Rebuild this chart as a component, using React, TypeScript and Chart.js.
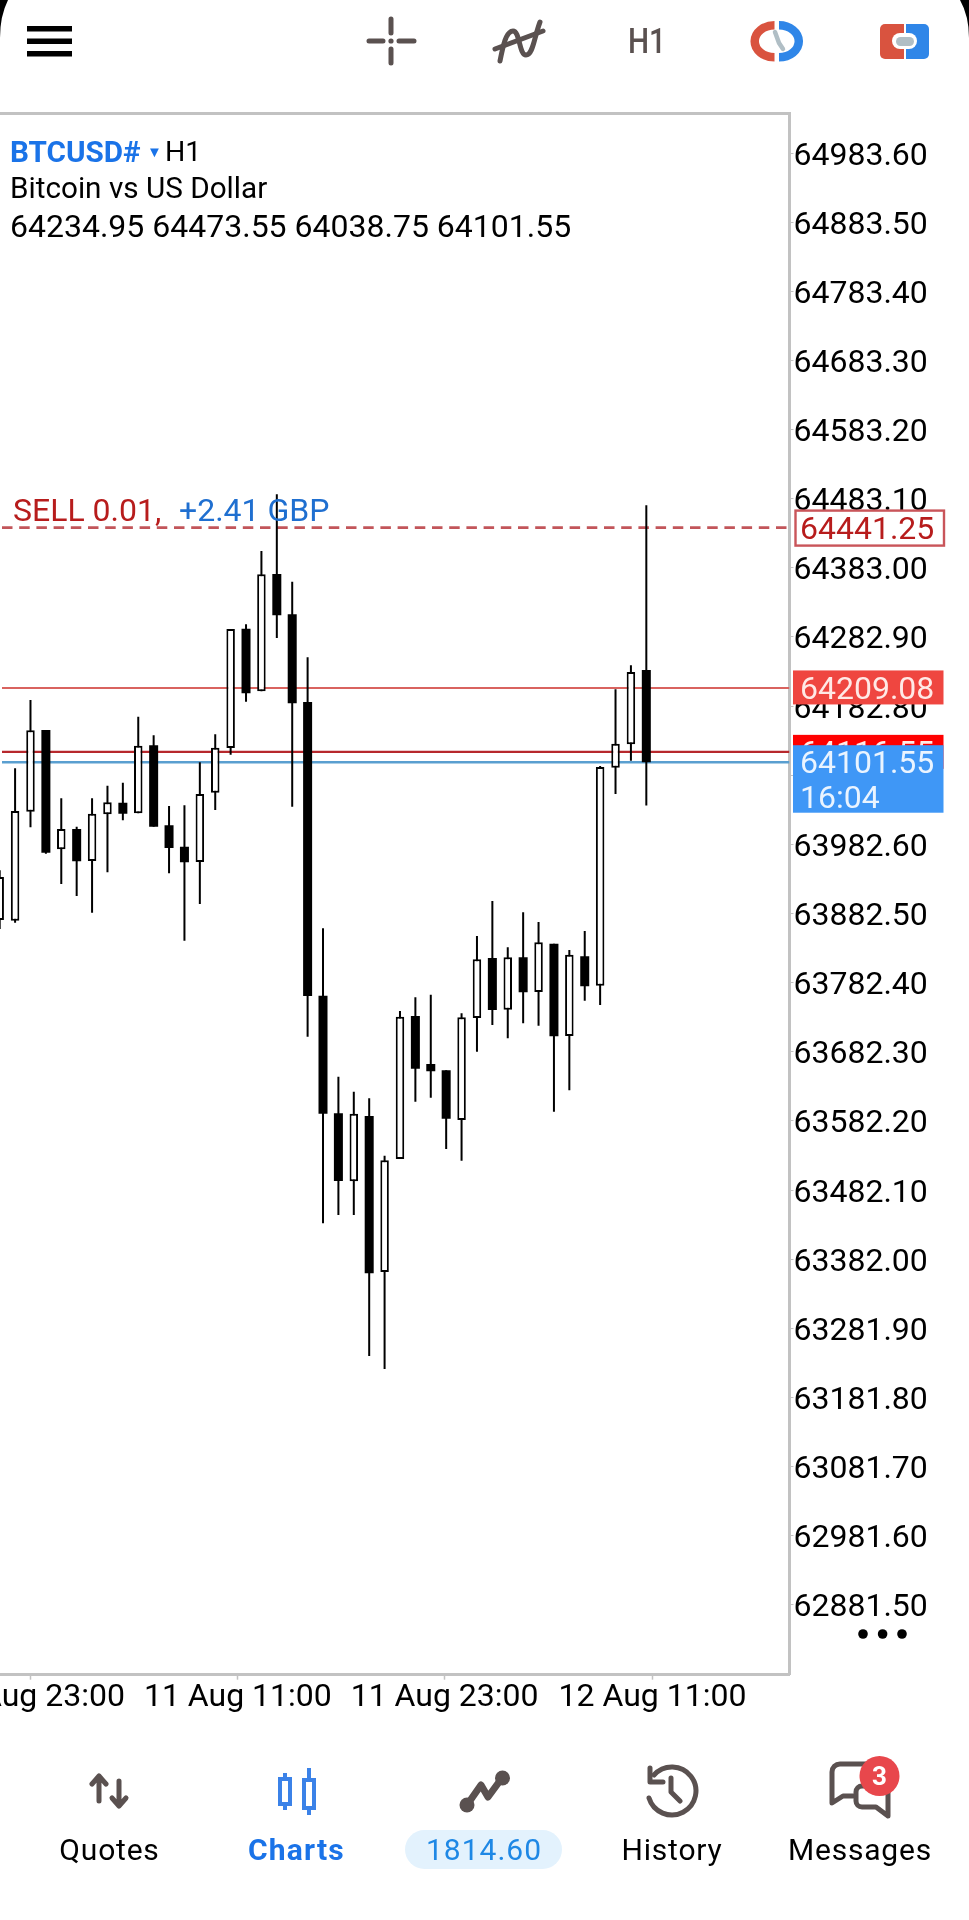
import React, { useEffect, useRef } from "react";
import { Chart, registerables } from "chart.js";

Chart.register(...registerables);

const opens = [63873.1,63872.1,64029.9,64148.2,63975.5,64004.9,63958.5,64026.2,64042.9,64027.6,64126.1,64010.2,63979.3,63957.1,64057.4,64122.1,64294.9,64204.2,64374.1,64315.7,64188.7,63763.5,63593.3,63494.8,63589.4,63363.5,63527.1,63734.2,63664.6,63655.5,63583.6,63731.3,63818.1,63743.3,63819.1,63768.9,63838.8,63705.2,63820.6,63778.0,64093.6,64127.5,64234.95];
const highs = [63945.0,64092.8,64191.6,64148.2,64049.3,64008.2,64049.3,64067.6,64071.9,64167.5,64140.5,64038.2,64039.2,64101.5,64142.0,64294.4,64301.2,64407.4,64489.5,64362.9,64253.5,63861.1,63646.3,63624.6,63615.0,63531.9,63741.4,63761.2,63765.0,63655.5,63738.1,63850.0,63900.6,63833.6,63884.3,63870.2,63838.8,63829.7,63857.2,64096.1,64207.1,64241.9,64473.55];
const lows = [63860.0,63869.2,64007.3,63969.1,63925.2,63907.9,63883.7,63942.2,64017.5,64027.6,64008.2,63940.7,63843.2,63896.3,64032.4,64112.4,64189.2,64204.2,64281.4,64037.2,63704.2,63434.0,63446.1,63446.1,63241.9,63223.1,63527.1,63609.9,63615.9,63541.6,63524.7,63682.5,63721.1,63701.9,63723.6,63720.1,63595.6,63626.6,63756.3,63750.1,64055.5,64103.8,64038.75];
const closes = [63935.4,64030.9,64147.8,63970.6,64004.9,63958.1,64027.0,64043.5,64027.0,64125.5,64008.2,63977.4,63956.7,64055.5,64122.6,64294.4,64201.3,64373.6,64314.3,64186.9,63763.1,63592.7,63495.3,63592.7,63361.6,63525.2,63733.1,63657.8,63654.1,63585.5,63732.2,63816.2,63742.8,63819.1,63768.4,63840.8,63704.8,63822.9,63777.2,64094.6,64128.4,64232.2,64101.55];

const priceTicks = [64983.6,64883.5,64783.4,64683.3,64583.2,64483.1,64383.0,64282.9,64182.8,64082.7,63982.6,63882.5,63782.4,63682.3,63582.2,63482.1,63382.0,63281.9,63181.8,63081.7,62981.6,62881.5];
const timeTickIndexes = [2.03, 15.47, 28.9, 42.4];
const timeTickLabels = ["10 Aug 23:00", "11 Aug 11:00", "11 Aug 23:00", "12 Aug 11:00"];

const orderPrice = 64441.25;
const askPrice = 64209.08;
const stopPrice = 64116.55;
const bidPrice = 64101.55;
const countdown = "16:04";

const yMin = 62780.4;
const yMax = 65040.8;
const xMin = 0.02;
const xMax = 51.3;

const FONT = "Roboto, sans-serif";
const CHART_FONT_SIZE = 32;

const indexes = opens.map((_, i) => i);
const bullish = indexes.filter((i) => closes[i] >= opens[i]);
const bearish = indexes.filter((i) => closes[i] < opens[i]);

const levelLine = (price: number, color: string, width: number, dash: number[] = []) => ({
  type: "line" as const,
  data: [{ x: xMin + 0.13, y: price }, { x: xMax, y: price }],
  borderColor: color,
  borderWidth: width,
  borderDash: dash,
  pointRadius: 0,
  order: 10,
});

const pricePlugin = {
  id: "priceTags",
  beforeDraw(chart: any) {
    const scale = chart.scales.y;
    const items = scale.getLabelItems(chart.chartArea);
    if (!items.shifted) {
      items.forEach((it: any) => {
        it.options.translation[1] += 3.5;
      });
      items.shifted = true;
    }
  },
  afterDraw(chart: any) {
    const { ctx, scales, chartArea } = chart;
    const y = scales.y;
    ctx.save();
    ctx.fillStyle = "#c2c2c2";
    ctx.fillRect(0, chartArea.top - 1.5, chartArea.right + 1.5, 3);
    ctx.font = `${CHART_FONT_SIZE}px ${FONT}`;
    ctx.textBaseline = "middle";
    ctx.textAlign = "left";

    const yo = y.getPixelForValue(orderPrice);
    ctx.fillStyle = "#ffffff";
    ctx.fillRect(795, yo - 17, 151, 35);
    ctx.strokeStyle = "#c9555a";
    ctx.lineWidth = 2.4;
    ctx.strokeRect(795.5, yo - 17, 148.5, 35);
    ctx.fillStyle = "#b71c1c";
    ctx.fillText(orderPrice.toFixed(2), 800, yo + 3);

    ctx.fillStyle = "#b71c1c";
    ctx.fillText("SELL 0.01,", 13, yo - 14.5);
    ctx.fillStyle = "#1f6fd0";
    ctx.fillText("+2.41 GBP", 179, yo - 14.5);

    const ya = y.getPixelForValue(askPrice);
    ctx.fillStyle = "#ef4640";
    ctx.fillRect(793, ya - 17.5, 150.5, 34);
    ctx.fillStyle = "#ffe9e6";
    ctx.fillText(askPrice.toFixed(2), 800, ya + 3);

    const ys = y.getPixelForValue(stopPrice);
    ctx.fillStyle = "#ff0000";
    ctx.fillRect(793, ys - 17, 150.5, 34);
    ctx.fillStyle = "#ffe9e6";
    ctx.fillText(stopPrice.toFixed(2), 800, ys + 3);

    const yb = y.getPixelForValue(bidPrice);
    ctx.fillStyle = "#3f97f6";
    ctx.fillRect(793, yb - 17, 150.5, 67.5);
    ctx.fillStyle = "#eaf4ff";
    ctx.fillText(bidPrice.toFixed(2), 800, yb + 3);
    ctx.fillText(countdown, 800, yb + 38);
    ctx.restore();
  },
};

function CandleChart() {
  const ref = useRef<HTMLCanvasElement | null>(null);
  useEffect(() => {
    const chart = new Chart(ref.current as HTMLCanvasElement, {
      type: "bar",
      data: {
        datasets: [
          {
            data: indexes.map((i) => ({ x: i, y: [lows[i], highs[i]] })),
            backgroundColor: "#000000",
            barThickness: 2,
            grouped: false,
            order: 3,
            inflateAmount: 0,
          },
          {
            data: bullish.map((i) => ({ x: i, y: [opens[i], closes[i]] })),
            backgroundColor: "#ffffff",
            borderColor: "#000000",
            borderWidth: 2,
            borderSkipped: false,
            barThickness: 8.5,
            grouped: false,
            order: 1,
            inflateAmount: 0,
          },
          {
            data: bearish.map((i) => ({ x: i, y: [opens[i], closes[i]] })),
            backgroundColor: "#000000",
            barThickness: 9,
            grouped: false,
            order: 2,
            inflateAmount: 0,
          },
          levelLine(orderPrice, "#c2555a", 2.6, [10.5, 6.7]),
          levelLine(askPrice, "#d9635f", 2),
          levelLine(stopPrice, "#b7282c", 2.4),
          levelLine(bidPrice, "#5a9fd0", 2.4),
        ] as any,
      },
      options: {
        animation: false,
        responsive: false,
        events: [],
        layout: { padding: { top: 113.5, left: 0, right: 0, bottom: 0 } },
        plugins: { legend: { display: false }, tooltip: { enabled: false } },
        scales: {
          x: {
            type: "linear",
            bounds: "data",
            offset: false,
            min: xMin,
            max: xMax,
            border: { color: "#c2c2c2", width: 3 },
            grid: { offset: false, drawOnChartArea: false, tickColor: "#c2c2c2", tickLength: 5, tickWidth: 1.5 },
            ticks: {
              autoSkip: false,
              maxRotation: 0,
              minRotation: 0,
              padding: -0.5,
              color: "#000000",
              font: { family: FONT, size: CHART_FONT_SIZE },
              callback: (_v: any, i: number) => timeTickLabels[i],
            },
            afterBuildTicks: (scale: any) => {
              scale.ticks = timeTickIndexes.map((value) => ({ value }));
            },
            afterFit: (scale: any) => {
              scale.height = 245.3;
              scale.paddingLeft = 0;
              scale.paddingRight = 0;
            },
          },
          y: {
            type: "linear",
            position: "right",
            bounds: "data",
            min: yMin,
            max: yMax,
            border: { color: "#c2c2c2", width: 3 },
            grid: { drawOnChartArea: false, tickColor: "#c2c2c2", tickLength: 4, tickWidth: 1 },
            ticks: {
              autoSkip: false,
              padding: 0,
              color: "#000000",
              font: { family: FONT, size: CHART_FONT_SIZE },
              callback: (v: any) => Number(v).toFixed(2),
            },
            afterBuildTicks: (scale: any) => {
              scale.ticks = priceTicks.map((value) => ({ value }));
            },
            afterFit: (scale: any) => {
              scale.width = 179.5;
              scale.paddingTop = 0;
              scale.paddingBottom = 0;
            },
          },
        },
      } as any,
      plugins: [pricePlugin],
    });
    return () => chart.destroy();
  }, []);
  return <canvas ref={ref} width={969} height={1920} style={{ position: "absolute", left: 0, top: 0, display: "block" }} />;
}

type TxtProps = {
  x: number;
  y: number;
  size: number;
  color?: string;
  weight?: number;
  center?: boolean;
  spacing?: number;
  scaleX?: number;
  children: React.ReactNode;
};

function Txt({ x, y, size, color = "#000", weight = 400, center = false, spacing = 0, scaleX = 1, children }: TxtProps) {
  return (
    <div
      style={{
        position: "absolute",
        left: x,
        top: y,
        transform: `translate(${center ? "-50%" : "0"}, -50%) scaleX(${scaleX})`,
        fontFamily: FONT,
        fontSize: size,
        fontWeight: weight,
        color,
        letterSpacing: spacing,
        lineHeight: 1,
        whiteSpace: "nowrap",
      }}
    >
      {children}
    </div>
  );
}

const ICON = "#5a5150";

function Icons() {
  return (
    <svg width={969} height={1920} style={{ position: "absolute", left: 0, top: 0 }}>
      {/* screen corners */}
      <path d="M0 0 H8 Q0 16 0 38 Z" fill="#000" />
      <path d="M969 0 H960 Q969 16 969 38 Z" fill="#000" />

      {/* hamburger */}
      <rect x={27} y={26} width={45} height={5.5} fill="#000" />
      <rect x={27} y={38.5} width={45} height={5.5} fill="#000" />
      <rect x={27} y={51} width={45} height={5.5} fill="#000" />

      {/* crosshair */}
      <g stroke={ICON} strokeWidth={5} strokeLinecap="round" fill="none">
        <path d="M391 19 V33 M391 49 V63 M369 41 H383 M399 41 H414" />
      </g>
      <circle cx={391} cy={41} r={2.6} fill={ICON} />

      {/* indicators */}
      <g stroke={ICON} strokeWidth={5} strokeLinecap="round" fill="none">
        <path d="M495 49 L543 31" />
        <path d="M500 61 C503 46 506 31 513 31 C520 31 519 55 526 55 C533 55 534 38 540 22" />
      </g>

      {/* clock ring */}
      <path d="M774.5 25.3 A19.8 16 0 0 0 774.5 57.3" fill="none" stroke="#d9533f" strokeWidth={8.5} />
      <path d="M779 25.3 A19.8 16 0 0 1 779 57.3" fill="none" stroke="#2f86e8" strokeWidth={8.5} />
      <path d="M775 32 L779 43 L783 49" fill="none" stroke="#b0bec5" strokeWidth={4.5} strokeLinecap="round" />

      {/* account */}
      <path d="M904 24 H885 a5 5 0 0 0 -5 5 V54 a5 5 0 0 0 5 5 H904 Z" fill="#d9533f" />
      <path d="M906 24 H924 a5 5 0 0 1 5 5 V54 a5 5 0 0 1 -5 5 H906 Z" fill="#2f86e8" />
      <rect x={892} y={33} width={25} height={16} rx={8} fill="#fff" />
      <rect x={896} y={37} width={18} height={9} rx={4.5} fill="#b0bec5" />

      {/* menu dots */}
      <circle cx={863} cy={1634} r={4.8} fill="#000" />
      <circle cx={882.6} cy={1634} r={4.8} fill="#000" />
      <circle cx={902} cy={1634} r={4.8} fill="#000" />

      {/* quotes */}
      <g stroke={ICON} strokeWidth={5} strokeLinecap="round" strokeLinejoin="round" fill="none">
        <path d="M99 1801 V1777 M92 1784 L99 1776 L106 1784" />
        <path d="M119 1781 V1805 M112 1798 L119 1806 L126 1798" />
      </g>

      {/* charts */}
      <g stroke="#3b82e8" strokeWidth={4} fill="none">
        <path d="M285 1773 V1778 M285 1805 V1810" />
        <rect x={280} y={1779} width={10} height={25} />
        <path d="M309 1768 V1779 M309 1808 V1815" />
        <rect x={304} y={1780} width={10} height={28} />
      </g>

      {/* trade */}
      <g stroke={ICON} strokeWidth={7} strokeLinecap="round" strokeLinejoin="round" fill="none">
        <path d="M467 1805 L481 1785 L488 1797 L502 1778" />
      </g>
      <circle cx={467} cy={1805} r={7.5} fill={ICON} />
      <circle cx={502.5} cy={1778} r={7.5} fill={ICON} />

      {/* history */}
      <g stroke={ICON} strokeWidth={5} strokeLinecap="round" strokeLinejoin="round" fill="none">
        <path d="M654 1775 A24 24 0 1 1 649 1798" />
        <path d="M650 1768 V1782 H663" />
        <path d="M671 1778 V1792 L680 1801" />
      </g>

      {/* messages */}
      <g stroke={ICON} strokeWidth={5} strokeLinejoin="round" strokeLinecap="round" fill="none">
        <path d="M870 1764 H840 a8 8 0 0 0 -8 8 V1803 L843 1796 H853" />
        <path d="M888 1792 V1816 L876 1807 H862 a6 6 0 0 1 -6 -6 V1792 a6 6 0 0 1 6 -6 H868" />
      </g>
      <circle cx={879.5} cy={1776} r={20} fill="#e8474c" />
    </svg>
  );
}

export default function App() {
  useEffect(() => {
    document.body.style.margin = "0";
  }, []);
  return (
    <div style={{ position: "absolute", left: 0, top: 0, width: 969, height: 1920, overflow: "hidden", background: "#fff" }}>
      <CandleChart />
      <Icons />
      <Txt x={647} y={41} size={35} color={ICON} weight={500} scaleX={0.85} center>H1</Txt>
      <Txt x={10} y={152} size={29.7} color="#1a73e8" weight={700}>BTCUSD#</Txt>
      <Txt x={147} y={152} size={15} color="#1a73e8">▼</Txt>
      <Txt x={165} y={152} size={28.5}>H1</Txt>
      <Txt x={10} y={188} size={29.7}>Bitcoin vs US Dollar</Txt>
      <Txt x={10} y={226} size={32}>64234.95 64473.55 64038.75 64101.55</Txt>
      <Txt x={109.5} y={1850} size={30} spacing={0.8} center>Quotes</Txt>
      <Txt x={296.5} y={1850} size={30} weight={700} color="#1a73e8" spacing={1.2} center>Charts</Txt>
      <div style={{ position: "absolute", left: 405, top: 1830, width: 157, height: 39, borderRadius: 19.5, background: "#e3f2fd" }} />
      <Txt x={484} y={1850} size={30} color="#1e88e5" spacing={1} center>1814.60</Txt>
      <Txt x={672} y={1850} size={30} spacing={0.8} center>History</Txt>
      <Txt x={860} y={1850} size={30} spacing={0.8} center>Messages</Txt>
      <Txt x={879.5} y={1776} size={26} weight={700} color="#fff" center>3</Txt>
    </div>
  );
}
